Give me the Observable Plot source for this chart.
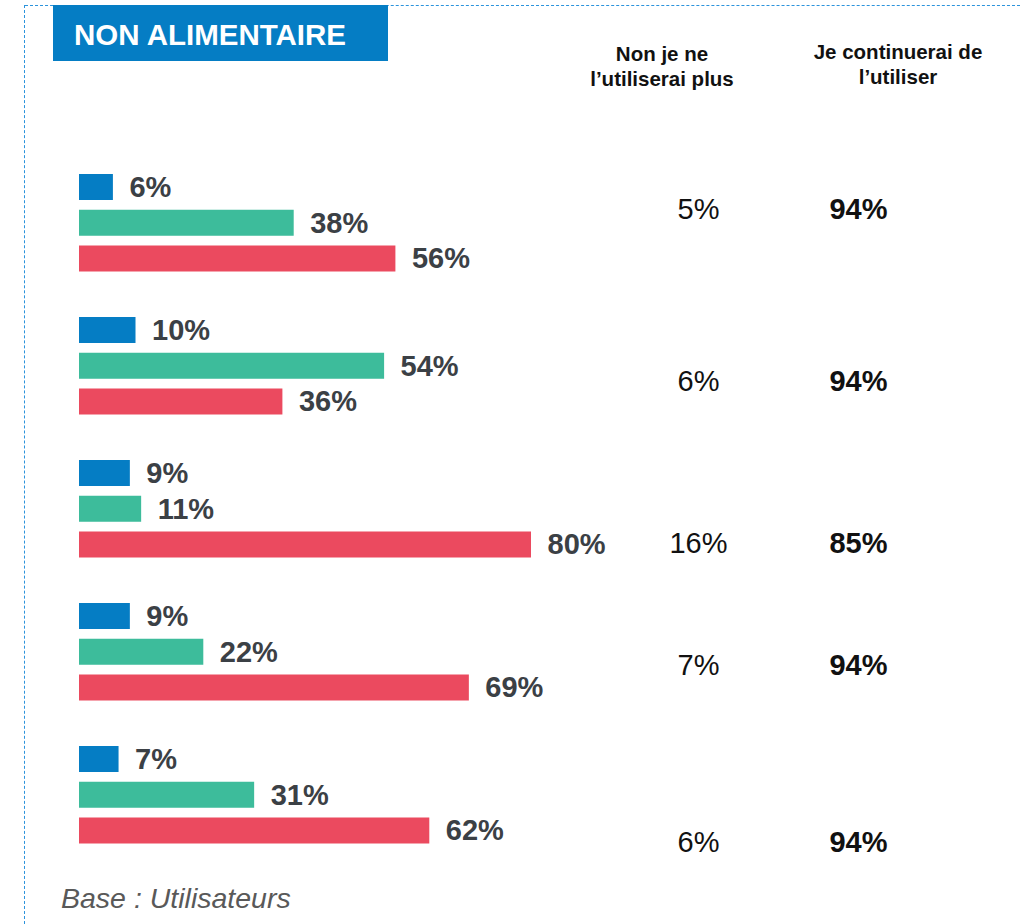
<!DOCTYPE html>
<html>
<head>
<meta charset="utf-8">
<script src="https://cdn.jsdelivr.net/npm/d3@7"></script>
<script src="https://cdn.jsdelivr.net/npm/@observablehq/plot@0.6"></script>
<style>
  html, body { margin: 0; padding: 0; background: #fff; }
  #root { position: relative; width: 1023px; height: 924px; overflow: hidden; font-family: "Liberation Sans", Arial, sans-serif; }
  #root svg { position: absolute; left: 0; top: 0; }
  .frame-top { position: absolute; left: 25px; top: 5px; width: 995px; height: 0; border-top: 1px dashed #2c93dc; }
  .frame-left { position: absolute; left: 24px; top: 5px; width: 0; height: 919px; border-left: 1px dashed #2c93dc; }
  .title-box { position: absolute; left: 53px; top: 5px; width: 335px; height: 56px; background: #057dc4; z-index: 2; }
  .title-box span { position: absolute; left: 21px; top: 16px; color: #fff; font-weight: bold; font-size: 29.5px; line-height: 28px; white-space: nowrap; }
  .col-head { position: absolute; font-weight: bold; font-size: 20.5px; line-height: 25px; color: #111; text-align: center; width: 240px; white-space: pre; z-index: 2; }
  .footnote { position: absolute; left: 61px; top: 885px; font-style: italic; font-size: 28.5px; line-height: 27px; color: #595959; white-space: nowrap; z-index: 2; }
</style>
</head>
<body>
<div id="root"></div>
<script>
// ---- data ----
const titleText = "NON ALIMENTAIRE";
const footnoteText = "Base : Utilisateurs";
const groupIds = [1, 2, 3, 4, 5];
const seriesNames = ["Série 1", "Série 2", "Série 3"];
const seriesColors = ["#057dc4", "#3dbc9b", "#eb4a5f"];
const series1Values = [6, 10, 9, 9, 7];
const series2Values = [38, 54, 11, 22, 31];
const series3Values = [56, 36, 80, 69, 62];
const columnHeaders = ["Non je ne\nl’utiliserai plus", "Je continuerai de\nl’utiliser"];
const nonPlusValues = [5, 6, 16, 7, 6];
const continueValues = [94, 94, 85, 94, 94];

// ---- layout (rows within each group of 4 slots) ----
const rowsPerGroup = 4;
const barHalf = 0.3636;
const valueRowOffset = [0.62, 1.43, 1.96, 1.37, 2.32];
const yScale = {domain: [0, 19], range: [187, 187 + 19 * 35.75], axis: null};

const allSeries = [series1Values, series2Values, series3Values];
const bars = groupIds.flatMap((g, i) =>
  allSeries.map((arr, s) => ({group: g, series: seriesNames[s], value: arr[i], row: i * rowsPerGroup + s}))
);
const tableRows = groupIds.map((g, i) => ({
  group: g, row: i * rowsPerGroup + valueRowOffset[i],
  nonPlus: nonPlusValues[i], cont: continueValues[i]
}));

const font = "'Liberation Sans', Arial, sans-serif";

const barChart = Plot.plot({
  width: 1023, height: 924, margin: 0,
  style: {fontFamily: font, background: "transparent"},
  x: {domain: [0, 100], range: [79, 644], axis: null},
  y: yScale,
  color: {domain: seriesNames, range: seriesColors},
  marks: [
    Plot.rectX(bars, {x1: 0, x2: "value", y1: d => d.row - barHalf, y2: d => d.row + barHalf, fill: "series"}),
    Plot.text(bars, {x: "value", y: "row", text: d => `${d.value}%`, dx: 16, textAnchor: "start",
      fontSize: 29, fontWeight: "bold", fill: "#3b4045"})
  ]
});

const table = Plot.plot({
  width: 1023, height: 924, margin: 0,
  style: {fontFamily: font, background: "transparent"},
  x: {type: "point", domain: columnHeaders, range: [698, 858], padding: 0, axis: null},
  y: yScale,
  marks: [
    Plot.text(tableRows, {x: () => columnHeaders[0], y: "row", text: d => `${d.nonPlus}%`, fontSize: 29, fill: "#111"}),
    Plot.text(tableRows, {x: () => columnHeaders[1], y: "row", text: d => `${d.cont}%`, fontSize: 29, fontWeight: "bold", fill: "#111"})
  ]
});

const root = document.getElementById("root");
root.append(barChart, table);

const add = (cls, style) => {
  const el = document.createElement("div");
  el.className = cls;
  if (style) Object.assign(el.style, style);
  root.append(el);
  return el;
};
add("frame-top");
add("frame-left");
const tb = add("title-box");
const ts = document.createElement("span"); ts.textContent = titleText; tb.append(ts);
const h1 = add("col-head", {left: (662 - 120) + "px", top: "41px"}); h1.textContent = columnHeaders[0];
const h2 = add("col-head", {left: (898 - 120) + "px", top: "39px"}); h2.textContent = columnHeaders[1];
const fn = add("footnote"); fn.textContent = footnoteText;
</script>
</body>
</html>
